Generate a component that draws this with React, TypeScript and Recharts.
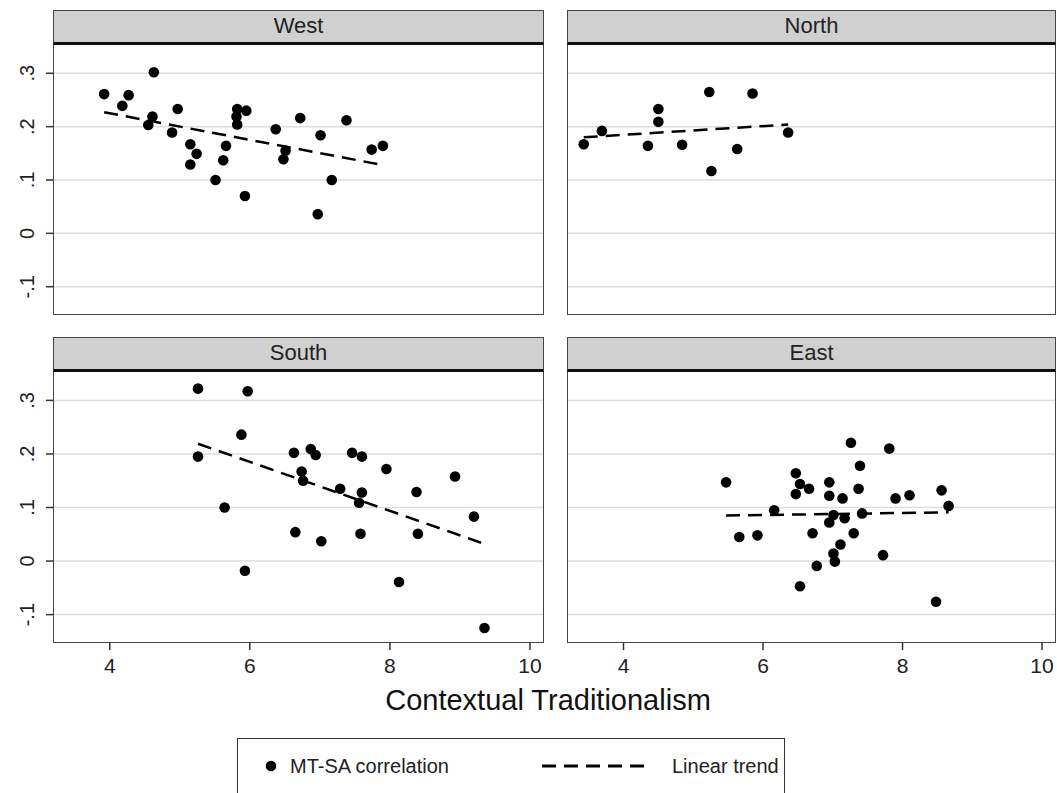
import React from "react";
import { ScatterChart, Scatter, XAxis, YAxis, CartesianGrid } from "recharts";

// values
const westX = [3.92, 4.18, 4.27, 4.63, 4.55, 4.61, 4.89, 4.97, 5.15, 5.15, 5.24, 5.51, 5.62, 5.66, 5.82, 5.81, 5.82, 5.95, 5.93, 6.37, 6.72, 6.48, 6.51, 7.01, 6.97, 7.17, 7.38, 7.74, 7.9];
const westY = [0.261, 0.239, 0.259, 0.302, 0.203, 0.219, 0.189, 0.233, 0.167, 0.129, 0.149, 0.1, 0.137, 0.164, 0.233, 0.219, 0.204, 0.23, 0.07, 0.195, 0.216, 0.139, 0.155, 0.184, 0.036, 0.1, 0.212, 0.157, 0.164];
const westTrendX = [3.92, 7.9];
const westTrendY = [0.227, 0.128];

const northX = [3.43, 3.69, 4.35, 4.5, 4.5, 4.84, 5.23, 5.26, 5.63, 5.85, 6.36];
const northY = [0.167, 0.192, 0.164, 0.233, 0.209, 0.166, 0.265, 0.117, 0.158, 0.262, 0.189];
const northTrendX = [3.43, 6.36];
const northTrendY = [0.18, 0.204];

const southX = [5.26, 5.26, 5.97, 5.88, 5.64, 5.93, 6.63, 6.65, 6.74, 6.76, 6.87, 6.94, 7.02, 7.29, 7.46, 7.6, 7.6, 7.56, 7.58, 7.95, 8.13, 8.38, 8.4, 8.93, 9.2, 9.35];
const southY = [0.322, 0.195, 0.317, 0.236, 0.1, -0.018, 0.202, 0.054, 0.167, 0.15, 0.209, 0.198, 0.037, 0.135, 0.202, 0.195, 0.128, 0.109, 0.051, 0.172, -0.039, 0.129, 0.051, 0.158, 0.083, -0.125];
const southTrendX = [5.26, 9.35];
const southTrendY = [0.219, 0.032];

const eastX = [5.47, 5.66, 5.92, 6.16, 6.47, 6.47, 6.53, 6.66, 6.71, 6.53, 6.77, 6.95, 6.95, 6.95, 7.01, 7.01, 7.03, 7.11, 7.14, 7.17, 7.26, 7.3, 7.37, 7.39, 7.42, 7.72, 7.81, 7.9, 8.1, 8.48, 8.56, 8.66];
const eastY = [0.147, 0.045, 0.048, 0.095, 0.164, 0.125, 0.144, 0.135, 0.052, -0.047, -0.009, 0.147, 0.122, 0.072, 0.086, 0.014, -0.001, 0.031, 0.117, 0.08, 0.221, 0.052, 0.135, 0.178, 0.089, 0.011, 0.21, 0.117, 0.123, -0.076, 0.132, 0.103];
const eastTrendX = [5.47, 8.66];
const eastTrendY = [0.085, 0.091];

const xTicks = [4, 6, 8, 10];
const yTicks = [-0.1, 0, 0.1, 0.2, 0.3];

const font = "'Liberation Sans', Arial, sans-serif";

const zip = (xs: number[], ys: number[]) => xs.map((x, i) => ({ x, y: ys[i] }));

const fmtY = (v: number) => {
  if (v === 0) return "0";
  const s = v.toFixed(1);
  return s.replace("0.", ".");
};

const YTick = ({ x, y, payload }: any) => (
  <text
    x={x - 10}
    y={y}
    transform={`rotate(-90, ${x - 10}, ${y})`}
    textAnchor="middle"
    fontSize={20}
    fontFamily={font}
    fill="#222"
  >
    {fmtY(payload.value)}
  </text>
);

const XTick = ({ x, y, payload }: any) => (
  <text x={x} y={y + 21} textAnchor="middle" fontSize={21} fontFamily={font} fill="#222">
    {payload.value}
  </text>
);

const Dot = ({ cx, cy }: any) => <circle cx={cx} cy={cy} r={5.3} fill="#000" />;
const NoDot = () => <g />;

function Panel({ title, xs, ys, tx, ty, left, top, width, height, showY, showX }: any) {
  const headerH = 35;
  const yw = showY ? 53 : 0;
  const xh = showX ? 40 : 0;
  return (
    <>
      <div
        style={{
          position: "absolute",
          left,
          top: top - headerH,
          width,
          height: headerH,
          boxSizing: "border-box",
          background: "#d0d0d0",
          border: "1.5px solid #444",
          borderBottom: "3px solid #111",
          fontFamily: font,
          fontSize: 22,
          color: "#222",
          textAlign: "center",
          lineHeight: `${headerH - 5}px`,
        }}
      >
        {title}
      </div>
      <div style={{ position: "absolute", left: left - yw, top }}>
        <ScatterChart
          width={width + yw}
          height={height + xh}
          margin={{ top: 0, right: 0, bottom: 0, left: 0 }}
        >
          <CartesianGrid vertical={false} horizontalValues={yTicks} stroke="#dddddd" strokeWidth={1.5} />
          <XAxis
            type="number"
            dataKey="x"
            domain={[3.19, 10.2]}
            ticks={xTicks}
            allowDataOverflow
            hide={!showX}
            height={40}
            axisLine={false}
            tickLine={{ stroke: "#333", strokeWidth: 1.5 }}
            tickSize={7}
            tick={<XTick />}
          />
          <YAxis
            type="number"
            dataKey="y"
            domain={[-0.153, 0.353]}
            ticks={yTicks}
            allowDataOverflow
            hide={!showY}
            width={53}
            axisLine={false}
            tickLine={{ stroke: "#333", strokeWidth: 1.5 }}
            tickSize={7}
            tick={<YTick />}
          />
          <Scatter data={zip(xs, ys)} shape={<Dot />} isAnimationActive={false} />
          <Scatter
            data={zip(tx, ty)}
            shape={<NoDot />}
            line={{ stroke: "#000", strokeWidth: 2.5, strokeDasharray: "14 8" }}
            isAnimationActive={false}
          />
        </ScatterChart>
      </div>
      <div
        style={{
          position: "absolute",
          left,
          top,
          width,
          height,
          boxSizing: "border-box",
          border: "1.5px solid #444",
          borderTop: "none",
          pointerEvents: "none",
        }}
      />
    </>
  );
}

export default function App() {
  return (
    <div style={{ position: "absolute", left: 0, top: 0, width: 1057, height: 793, background: "#fff", overflow: "hidden" }}>
      <Panel title="West" xs={westX} ys={westY} tx={westTrendX} ty={westTrendY} left={53} top={45} width={491} height={270} showY showX={false} />
      <Panel title="North" xs={northX} ys={northY} tx={northTrendX} ty={northTrendY} left={567} top={45} width={489} height={270} showY={false} showX={false} />
      <Panel title="South" xs={southX} ys={southY} tx={southTrendX} ty={southTrendY} left={53} top={372} width={491} height={271} showY showX />
      <Panel title="East" xs={eastX} ys={eastY} tx={eastTrendX} ty={eastTrendY} left={567} top={372} width={489} height={271} showY={false} showX />
      <div
        style={{
          position: "absolute",
          left: 548,
          top: 686,
          transform: "translateX(-50%)",
          fontFamily: font,
          fontSize: 29,
          lineHeight: 1,
          color: "#111",
          whiteSpace: "nowrap",
        }}
      >
        Contextual Traditionalism
      </div>
      <div
        style={{
          position: "absolute",
          left: 237,
          top: 738,
          width: 548,
          height: 70,
          boxSizing: "border-box",
          border: "1.5px solid #333",
        }}
      >
        <svg width={548} height={60} style={{ position: "absolute", left: 0, top: 0 }}>
          <circle cx={33} cy={27} r={5.3} fill="#000" />
          <text x={52} y={34} fontSize={20} fontFamily={font} fill="#222">MT-SA correlation</text>
          <line x1={304} x2={414} y1={27} y2={27} stroke="#000" strokeWidth={3} strokeDasharray="14 8" />
          <text x={434} y={34} fontSize={20} fontFamily={font} fill="#222">Linear trend</text>
        </svg>
      </div>
    </div>
  );
}
